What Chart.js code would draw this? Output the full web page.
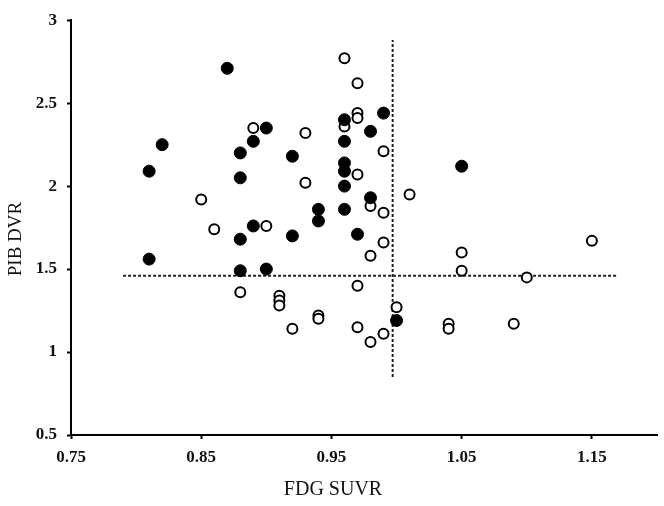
<!DOCTYPE html>
<html>
<head>
<meta charset="utf-8">
<script src="https://cdn.jsdelivr.net/npm/chart.js"></script>
<style>
  body { margin: 0; background: #fff; }
  canvas { display: block; }
</style>
</head>
<body>
<canvas id="pibChart" width="664" height="506"></canvas>
<script>
// tick values on the FDG axis
const xTicks = [0.75, 0.85, 0.95, 1.05, 1.15];

// filled circles
const filledFdg = [0.87, 0.82, 0.81, 0.90, 0.89, 0.88, 0.92, 0.88, 0.94, 0.94, 0.89, 0.88, 0.92, 0.81,
  0.88, 0.90, 0.99, 0.96, 0.98, 0.96, 1.05, 0.96, 0.96, 0.96, 0.98, 0.96, 0.97, 1.00];
const filledPib = [2.71, 2.25, 2.09, 2.35, 2.27, 2.20, 2.18, 2.05, 1.86, 1.79, 1.76, 1.68, 1.70, 1.56,
  1.49, 1.50, 2.44, 2.40, 2.33, 2.27, 2.12, 2.14, 2.09, 2.00, 1.93, 1.86, 1.71, 1.19];

// open circles
const openFdg = [0.89, 0.93, 0.93, 0.85, 0.86, 0.90, 0.88, 0.91, 0.91, 0.91, 0.92, 0.94, 0.94,
  0.96, 0.97, 0.97, 0.97, 0.96, 0.99, 0.97, 1.01, 0.98, 0.99, 0.99, 1.15, 1.05, 0.98, 1.05,
  1.10, 0.97, 1.00, 1.04, 1.04, 1.09, 0.97, 0.99, 0.98];
const openPib = [2.35, 2.32, 2.02, 1.92, 1.74, 1.76, 1.36, 1.34, 1.31, 1.28, 1.14, 1.22, 1.20,
  2.77, 2.62, 2.44, 2.41, 2.36, 2.21, 2.07, 1.95, 1.88, 1.84, 1.66, 1.67, 1.60, 1.58, 1.49,
  1.45, 1.40, 1.27, 1.17, 1.14, 1.17, 1.15, 1.11, 1.06];

// cut-off lines
const fdgCutoff = 0.997;
const pibCutoff = 1.46;
const pibLineFrom = [0.79, 1.17];   // x extent of horizontal line
const fdgLineFrom = [0.85, 2.88];   // y extent of vertical line

const toPoints = (xs, ys) => xs.map((x, i) => ({ x: x, y: ys[i] }));
const serif = '"Liberation Serif", "Times New Roman", serif';

// axis titles drawn by hand so they sit where the original has them
const axisTitles = {
  id: 'axisTitles',
  afterDraw(chart) {
    const ctx = chart.ctx;
    ctx.save();
    ctx.fillStyle = '#111';
    ctx.textAlign = 'center';
    ctx.textBaseline = 'middle';
    ctx.font = '20px ' + serif;
    ctx.fillText('FDG SUVR', 333, 490);
    ctx.translate(16, 239);
    ctx.rotate(-Math.PI / 2);
    ctx.font = '19px ' + serif;
    ctx.fillText('PIB DVR', 0, 0);
    ctx.restore();
  }
};

const dashed = {
  showLine: true,
  pointRadius: 0,
  pointHoverRadius: 0,
  borderColor: '#222',
  borderWidth: 2,
  borderDash: [3, 2],
  fill: false
};

new Chart(document.getElementById('pibChart').getContext('2d'), {
  type: 'scatter',
  data: {
    datasets: [{
      label: 'filled',
      data: toPoints(filledFdg, filledPib),
      pointRadius: 6,
      pointHoverRadius: 6,
      backgroundColor: '#000',
      borderColor: '#000',
      borderWidth: 1
    }, {
      label: 'open',
      data: toPoints(openFdg, openPib),
      pointRadius: 5,
      pointHoverRadius: 5,
      backgroundColor: '#fff',
      borderColor: '#000',
      borderWidth: 2
    }, Object.assign({
      label: 'pib cut-off',
      data: pibLineFrom.map(x => ({ x: x, y: pibCutoff }))
    }, dashed), Object.assign({
      label: 'fdg cut-off',
      data: fdgLineFrom.map(y => ({ x: fdgCutoff, y: y }))
    }, dashed)]
  },
  options: {
    responsive: false,
    animation: false,
    layout: { padding: { top: 12, right: 7, left: 0, bottom: 0 } },
    plugins: { legend: { display: false }, tooltip: { enabled: false } },
    scales: {
      x: {
        type: 'linear',
        min: 0.75,
        max: 1.2,
        afterBuildTicks: s => { s.ticks = xTicks.map(v => ({ value: v })); },
        afterFit: s => { s.height = 71; },
        ticks: {
          callback: v => v.toFixed(2),
          font: { family: serif, size: 17, weight: 'bold' },
          color: '#111',
          padding: 8,
          maxRotation: 0,
          autoSkip: false
        },
        grid: { drawOnChartArea: false, tickLength: 4, color: '#000', tickWidth: 2 },
        border: { color: '#000', width: 2 }
      },
      y: {
        min: 0.5,
        max: 3,
        afterFit: s => { s.width = 71; },
        ticks: {
          stepSize: 0.5,
          callback: v => String(Math.round(v * 10) / 10),
          font: { family: serif, size: 17, weight: 'bold' },
          color: '#111',
          padding: 10
        },
        grid: { drawOnChartArea: false, tickLength: 4, color: '#000', tickWidth: 2 },
        border: { color: '#000', width: 2 }
      }
    }
  },
  plugins: [axisTitles]
});
</script>
</body>
</html>
